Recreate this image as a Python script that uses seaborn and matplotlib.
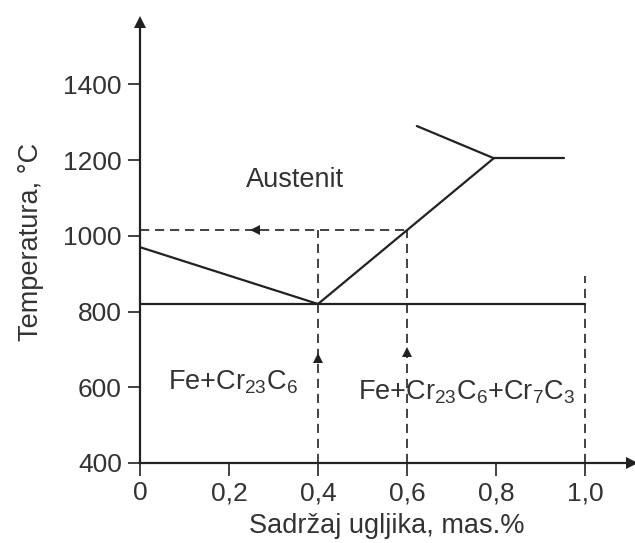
import matplotlib
matplotlib.use("Agg")
import matplotlib.pyplot as plt
import seaborn as sns

# Fazni dijagram Fe-Cr-C (presjek), vrijednosti procijenjene sa slike
solvus_x = [0.0, 0.4]
solvus_y = [970, 820]
acm_x = [0.4, 0.795]
acm_y = [820, 1205]
eutektoid_x = [0.0, 1.0]
eutektoid_y = [820, 820]
gornja_x = [0.622, 0.795]
gornja_y = [1290, 1205]
gornja_hor_x = [0.795, 0.953]
gornja_hor_y = [1205, 1205]

# isprekidane linije
isp_hor_x = [0.0, 0.6]
isp_hor_y = [1015, 1015]
isp_04_x = [0.4, 0.4]
isp_04_y = [400, 1015]
isp_06_x = [0.6, 0.6]
isp_06_y = [400, 1015]
isp_10_x = [1.0, 1.0]
isp_10_y = [400, 895]

x_ticks = [0, 0.2, 0.4, 0.6, 0.8, 1.0]
x_labels = ["0", "0,2", "0,4", "0,6", "0,8", "1,0"]
y_ticks = [400, 600, 800, 1000, 1200, 1400]

sns.set_theme(style="ticks")
plt.rcParams["font.family"] = ["Liberation Sans", "DejaVu Sans"]
plt.rcParams["mathtext.default"] = "regular"

boja = "#222222"
tekst = "#333333"
fs = 19.5
fs_tick = 19

fig = plt.figure(figsize=(6.35, 5.43), dpi=100)
ax = fig.add_axes([140 / 635, 1 - 463 / 543, 494 / 635, 443 / 543])

# pune linije
for xs, ys in [(solvus_x, solvus_y), (acm_x, acm_y), (eutektoid_x, eutektoid_y),
               (gornja_x, gornja_y), (gornja_hor_x, gornja_hor_y)]:
    sns.lineplot(x=xs, y=ys, sort=False, color=boja, lw=1.6, ax=ax)

# isprekidane linije
for xs, ys in [(isp_hor_x, isp_hor_y), (isp_04_x, isp_04_y),
               (isp_06_x, isp_06_y), (isp_10_x, isp_10_y)]:
    ax.plot(xs, ys, color=boja, lw=1.2, dashes=(5.5, 3.5))

# strelice
ax.plot([0.258], [1015], marker="<", color=boja, ms=6.5, mew=0)
ax.plot([0.4, 0.6], [676, 692], marker="^", ls="none", color=boja, ms=6.5, mew=0)

ax.set_xlim(0, 1.11)
ax.set_ylim(400, 1570)

# osi sa strelicama
ax.plot([1.105], [400], marker=">", color=boja, ms=8, mew=0, clip_on=False)
ax.plot([0], [1565], marker="^", color=boja, ms=8, mew=0, clip_on=False)

sns.despine(ax=ax)
for s in ["left", "bottom"]:
    ax.spines[s].set_linewidth(1.6)
    ax.spines[s].set_color(boja)

ax.set_xticks(x_ticks)
ax.set_xticklabels(x_labels)
ax.set_yticks(y_ticks)
ax.tick_params(axis="both", direction="out", length=9, width=1.2, color=boja,
               labelsize=fs_tick, labelcolor=tekst, pad=4)

ax.set_xlabel("Sadržaj ugljika, mas.%", fontsize=fs, color=tekst, labelpad=6)
ax.set_ylabel("Temperatura, °C", fontsize=fs, color=tekst, labelpad=14)

ax.text(0.238, 1147, "Austenit", fontsize=fs, color=tekst, va="center")
ax.text(0.063, 614, "Fe+Cr$_{23}$C$_6$", fontsize=fs, color=tekst, va="center")
ax.text(0.49, 587, "Fe+Cr$_{23}$C$_6$+Cr$_7$C$_3$", fontsize=fs, color=tekst, va="center")

fig.savefig("out.png", dpi=100)
